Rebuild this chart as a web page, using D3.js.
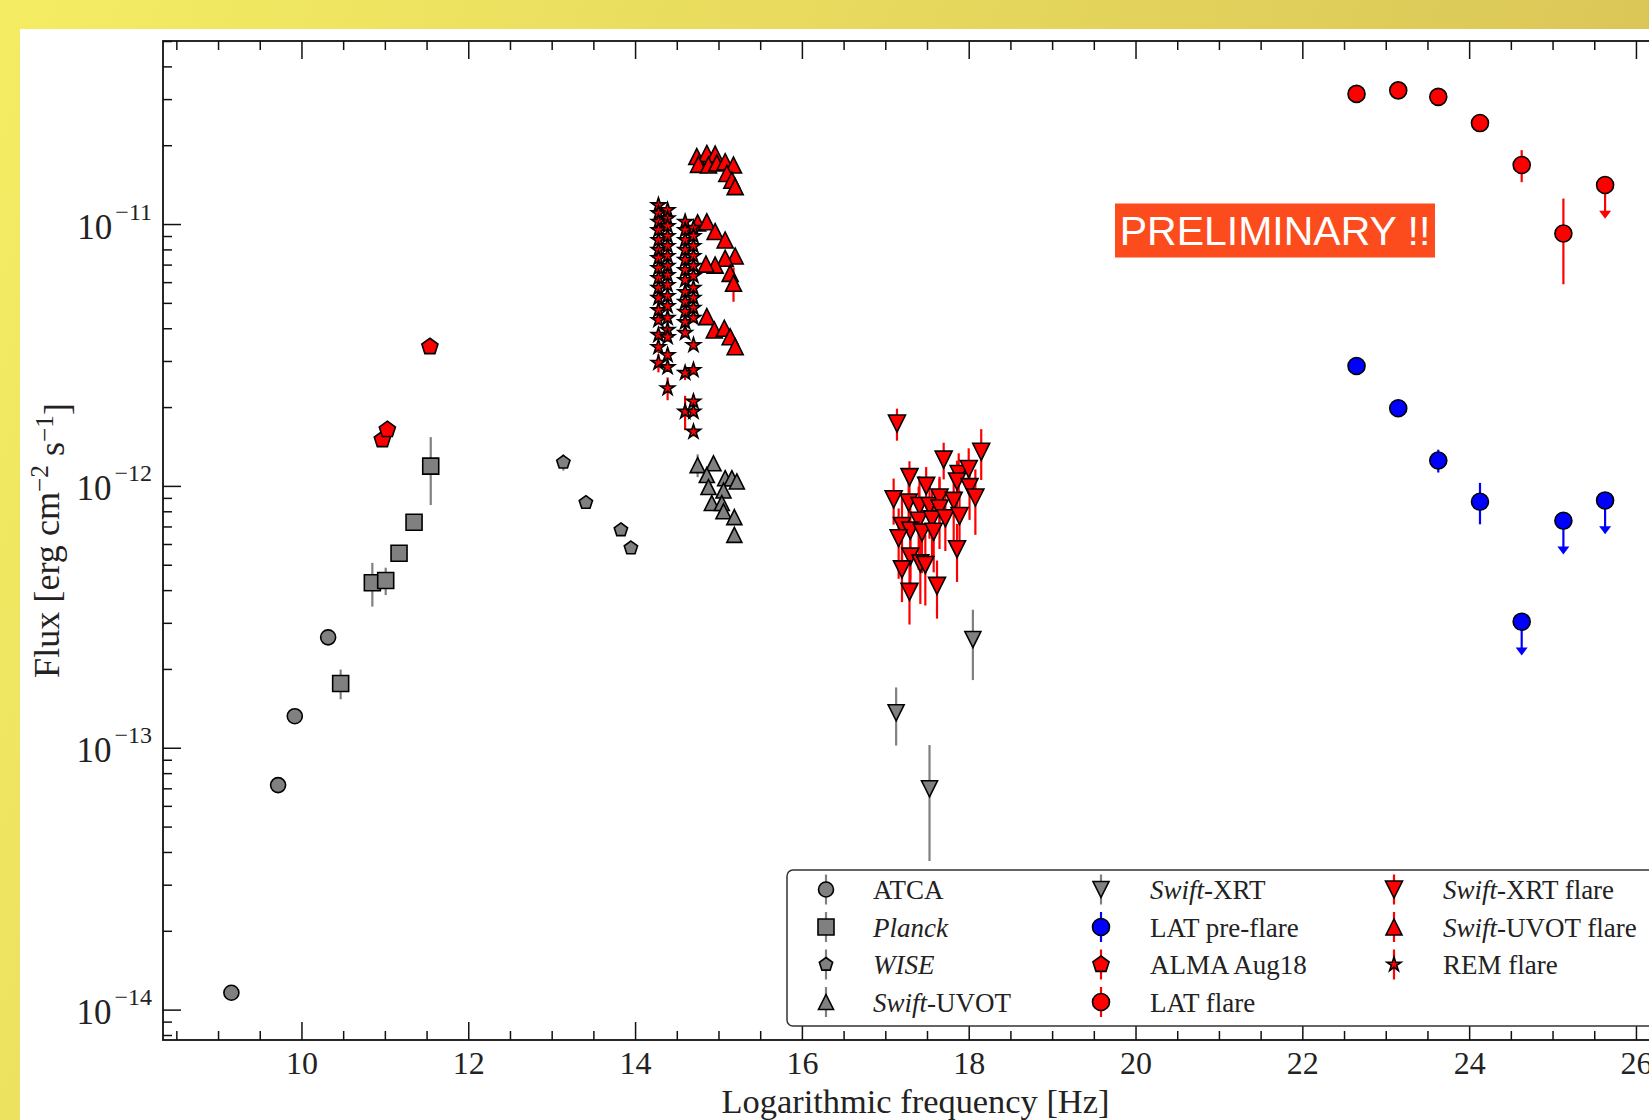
<!DOCTYPE html>
<html>
<head>
<meta charset="utf-8">
<script src="https://cdn.jsdelivr.net/npm/d3@7/dist/d3.min.js"></script>
<style>
html,body{margin:0;padding:0;background:#fff;overflow:hidden;}
svg{display:block;}
</style>
</head>
<body>
<svg id="chart" width="1649" height="1120"></svg>
<script>
// ---------------- data ----------------
const xTickLabels = [10, 12, 14, 16, 18, 20, 22, 24, 26];
const yTickExponents = [-14, -13, -12, -11];

// rows: [log10 frequency (Hz), flux (erg cm^-2 s^-1), relative error]
const atca = [[9.16,1.16e-14,0.02],[9.72,7.2e-14,0.02],[9.92,1.32e-13,0.02],[10.32,2.64e-13,0.02]];
const planck = [[10.47,1.76e-13,0.13],[10.85,4.27e-13,0.19],[11.01,4.35e-13,0.12],[11.17,5.53e-13,0.04],[11.35,7.26e-13,0.06],[11.55,1.19e-12,0.29]];
const wise = [[13.14,1.23e-12,0.07],[13.41,8.63e-13,0.02],[13.83,6.79e-13,0.02],[13.95,5.79e-13,0.02]];
const uvot = [[14.75,1.20e-12,0.1],[14.94,1.22e-12,0.03],[14.86,1.10e-12,0.03],[14.88,9.9e-13,0.03],[15.08,1.07e-12,0.03],[15.16,1.07e-12,0.03],[15.22,1.04e-12,0.03],[15.06,9.6e-13,0.03],[14.92,8.6e-13,0.03],[15.04,8.6e-13,0.03],[15.06,8.0e-13,0.03],[15.19,7.6e-13,0.03],[15.19,6.5e-13,0.03]];
const xrt = [[17.13,1.36e-13,0.25],[17.53,6.97e-14,0.47],[18.05,2.59e-13,0.3]];
const latPre = [[22.65,2.87e-12,0.065],[23.15,1.98e-12,0.04],[23.63,1.25e-12,0.1],[24.13,8.7e-13,0.18]];
const latPreUL = [[24.63,3.03e-13],[25.13,7.36e-13],[25.63,8.8e-13]];
const alma = [[10.97,1.50e-12,0.02],[11.03,1.64e-12,0.02],[11.54,3.40e-12,0.02]];
const latFlare = [[22.65,3.14e-11,0.03],[23.15,3.24e-11,0.03],[23.63,3.06e-11,0.03],[24.13,2.43e-11,0.04],[24.63,1.68e-11,0.14],[25.13,9.2e-12,0.36]];
const latFlareUL = [[25.63,1.41e-11]];
const xrtFlare = [
 [17.14,1.73e-12,0.14],[17.70,1.26e-12,0.16],[18.15,1.35e-12,0.22],[17.29,1.08e-12,0.15],[17.49,1.00e-12,0.18],
 [17.88,1.11e-12,0.2],[18.00,1.16e-12,0.2],[17.86,1.04e-12,0.2],[18.01,9.89e-13,0.25],[17.10,8.89e-13,0.2],
 [17.28,8.63e-13,0.25],[17.41,8.38e-13,0.3],[17.53,8.38e-13,0.25],[17.65,9.03e-13,0.2],[17.82,8.77e-13,0.3],
 [18.08,9.03e-13,0.28],[17.65,8.20e-13,0.3],[17.40,7.36e-13,0.35],[17.56,7.45e-13,0.3],[17.72,7.52e-13,0.25],
 [17.89,7.67e-13,0.25],[17.20,7.03e-13,0.3],[17.30,6.75e-13,0.35],[17.44,6.63e-13,0.3],[17.58,6.68e-13,0.3],
 [17.16,6.31e-13,0.3],[17.86,5.73e-13,0.25],[17.30,5.37e-13,0.3],[17.42,5.06e-13,0.3],[17.48,4.99e-13,0.3],
 [17.20,4.80e-13,0.25],[17.29,3.94e-13,0.25],[17.62,4.15e-13,0.25]
];
const uvotFlare = [
 [14.74,1.81e-11,0.02],[14.86,1.86e-11,0.02],[14.96,1.85e-11,0.02],[14.76,1.69e-11,0.02],[14.88,1.68e-11,0.02],
 [14.98,1.71e-11,0.02],[15.08,1.73e-11,0.02],[15.18,1.68e-11,0.02],[15.10,1.56e-11,0.02],[15.16,1.47e-11,0.02],
 [15.20,1.39e-11,0.02],
 [14.75,1.01e-11,0.02],[14.86,1.02e-11,0.02],[14.96,9.36e-12,0.02],[15.08,8.69e-12,0.02],[15.20,7.55e-12,0.03],
 [15.08,7.40e-12,0.02],[14.96,6.97e-12,0.02],[14.85,7.03e-12,0.02],[15.14,6.48e-12,0.03],[15.18,5.94e-12,0.15],
 [14.86,4.43e-12,0.02],[14.95,3.94e-12,0.02],[15.07,4.00e-12,0.02],[15.14,3.71e-12,0.02],[15.20,3.40e-12,0.02]
];
const remFlare = [
 [14.28,1.18e-11,0.06],[14.28,1.10e-11,0.04],[14.28,1.02e-11,0.04],[14.28,9.48e-12,0.04],[14.28,8.69e-12,0.04],
 [14.28,7.96e-12,0.04],[14.28,7.41e-12,0.04],[14.28,6.79e-12,0.04],[14.28,6.22e-12,0.04],[14.28,5.70e-12,0.04],
 [14.28,5.22e-12,0.08],[14.28,4.69e-12,0.04],[14.28,4.30e-12,0.04],[14.28,3.77e-12,0.04],[14.28,3.39e-12,0.05],
 [14.28,2.95e-12,0.08],
 [14.39,1.13e-11,0.04],[14.39,1.05e-11,0.04],[14.39,9.82e-12,0.04],[14.39,8.99e-12,0.04],[14.39,8.24e-12,0.04],
 [14.39,7.55e-12,0.04],[14.39,6.92e-12,0.04],[14.39,6.38e-12,0.04],[14.39,5.85e-12,0.04],[14.39,5.31e-12,0.04],
 [14.39,4.86e-12,0.1],[14.39,4.38e-12,0.04],[14.39,3.94e-12,0.06],[14.39,3.70e-12,0.04],[14.39,3.16e-12,0.04],
 [14.39,2.84e-12,0.04],[14.39,2.36e-12,0.1],
 [14.60,1.02e-11,0.04],[14.60,9.48e-12,0.04],[14.60,8.69e-12,0.04],[14.60,7.96e-12,0.04],[14.60,7.29e-12,0.04],
 [14.60,6.67e-12,0.04],[14.60,6.11e-12,0.04],[14.60,5.50e-12,0.04],[14.60,5.04e-12,0.04],[14.60,4.62e-12,0.04],
 [14.60,4.22e-12,0.04],[14.60,3.84e-12,0.04],[14.60,2.70e-12,0.06],[14.60,1.92e-12,0.15],
 [14.70,9.66e-12,0.04],[14.70,8.99e-12,0.04],[14.70,8.24e-12,0.04],[14.70,7.55e-12,0.04],[14.70,6.92e-12,0.04],
 [14.70,6.33e-12,0.04],[14.70,5.70e-12,0.04],[14.70,5.22e-12,0.04],[14.70,4.78e-12,0.04],[14.70,4.38e-12,0.04],
 [14.70,3.45e-12,0.04],[14.70,2.77e-12,0.04],[14.70,2.10e-12,0.06],[14.70,1.92e-12,0.04],[14.70,1.61e-12,0.04]
];

// ---------------- setup ----------------
const W = 1649, H = 1120;
const SERIF = "'Liberation Serif','Times New Roman',serif";
const SANS = "'Liberation Sans',Arial,sans-serif";
const GRAY = '#808080', RED = '#ff0000', BLUE = '#0000ff', INK = '#111';

const svg = d3.select('#chart');
const defs = svg.append('defs');
const grad = defs.append('linearGradient').attr('id','bg').attr('gradientUnits','userSpaceOnUse')
  .attr('x1',0).attr('y1',0).attr('x2',W).attr('y2',700);
grad.append('stop').attr('offset',0).attr('stop-color','#f4ed63');
grad.append('stop').attr('offset',1).attr('stop-color','#d6c056');
svg.append('rect').attr('width',W).attr('height',H).attr('fill','url(#bg)');
svg.append('rect').attr('x',20).attr('y',29).attr('width',W-20).attr('height',H-29).attr('fill','#fff');

const plotL = 163, plotT = 41, plotB = 1040, plotR = 1686;
const x = d3.scaleLinear().domain([8.34, 26.6]).range([plotL, plotR]);
const y = d3.scaleLog().domain([Math.pow(10,-14.116), Math.pow(10,-10.301)]).range([plotB, plotT]);

// ---------------- axes ----------------
const xMinor = d3.range(8.5, 26.6, 0.5).filter(v => !xTickLabels.includes(v) && v !== 8);
const yMajor = yTickExponents.map(e => Math.pow(10, e));
const yMinor = [];
[-15,-14,-13,-12,-11].forEach(e => { for (let m = 2; m <= 9; m++) { const v = m*Math.pow(10,e); if (v > y.domain()[0] && v < y.domain()[1]) yMinor.push(v); } });

function styleAxis(g){
  g.select('.domain').remove();
  g.selectAll('line').attr('stroke', INK).attr('stroke-width', 1.5);
}
// bottom
const gB = svg.append('g').attr('transform',`translate(0,${plotB})`)
  .call(d3.axisBottom(x).tickValues(xTickLabels).tickSize(-18).tickPadding(11).tickFormat(d3.format('d')));
styleAxis(gB);
gB.selectAll('text').attr('font-family',SERIF).attr('font-size',32).attr('fill','#222');
svg.append('g').attr('transform',`translate(0,${plotB})`)
  .call(d3.axisBottom(x).tickValues(xMinor).tickSize(-9).tickFormat('')).call(styleAxis);
// top
svg.append('g').attr('transform',`translate(0,${plotT})`)
  .call(d3.axisTop(x).tickValues(xTickLabels).tickSize(-18).tickFormat('')).call(styleAxis);
svg.append('g').attr('transform',`translate(0,${plotT})`)
  .call(d3.axisTop(x).tickValues(xMinor).tickSize(-9).tickFormat('')).call(styleAxis);
// left
const gL = svg.append('g').attr('transform',`translate(${plotL},0)`)
  .call(d3.axisLeft(y).tickValues(yMajor).tickSize(-18).tickFormat(''));
styleAxis(gL);
gL.selectAll('.tick').each(function(d){
  const t = d3.select(this).append('text').attr('x',-11).attr('y',14)
    .attr('text-anchor','end').attr('font-family',SERIF).attr('fill','#222').attr('font-size',35);
  t.append('tspan').text('10');
  t.append('tspan').attr('dx',3).attr('dy',-19).attr('font-size',24).text('\u2212' + Math.abs(Math.round(Math.log10(d))));
});
svg.append('g').attr('transform',`translate(${plotL},0)`)
  .call(d3.axisLeft(y).tickValues(yMinor).tickSize(-9).tickFormat('')).call(styleAxis);
// right (outside the visible window)
svg.append('g').attr('transform',`translate(${plotR},0)`)
  .call(d3.axisRight(y).tickValues(yMajor).tickSize(-18).tickFormat('')).call(styleAxis);

// frame
svg.append('rect').attr('x',plotL).attr('y',plotT).attr('width',plotR-plotL).attr('height',plotB-plotT)
  .attr('fill','none').attr('stroke',INK).attr('stroke-width',1.8);

// axis labels
function fitWidth(sel, target){
  const len = sel.node().getComputedTextLength();
  const fs = parseFloat(sel.attr('font-size'));
  sel.attr('font-size', fs*target/len);
}
const xl = svg.append('text').attr('x',915.5).attr('y',1113).attr('text-anchor','middle')
  .attr('font-family',SERIF).attr('font-size',33).attr('fill','#222').text('Logarithmic frequency [Hz]');
fitWidth(xl, 388);

const yl = svg.append('text').attr('transform','translate(59,540.5) rotate(-90)').attr('text-anchor','middle')
  .attr('font-family',SERIF).attr('font-size',33).attr('fill','#222');
yl.append('tspan').text('Flux [erg cm');
yl.append('tspan').attr('dy','-0.45em').style('font-size','0.7em').text('\u22122');
yl.append('tspan').attr('dy','0.45em').text(' s');
yl.append('tspan').attr('dy','-0.45em').style('font-size','0.7em').text('\u22121');
yl.append('tspan').attr('dy','0.45em').text(']');
fitWidth(yl, 275);

// ---------------- marker shapes ----------------
function circleP(r){ return `M${r},0A${r},${r} 0 1,1 ${-r},0A${r},${r} 0 1,1 ${r},0Z`; }
function squareP(s){ const h=s/2; return `M${-h},${-h}H${h}V${h}H${-h}Z`; }
function pentP(r){ let p=''; for(let i=0;i<5;i++){ const a=-Math.PI/2+i*2*Math.PI/5; p+=(i?'L':'M')+(r*Math.cos(a)).toFixed(2)+','+(r*Math.sin(a)).toFixed(2);} return p+'Z'; }
function starP(R){ const r=R*0.381966; let p=''; for(let i=0;i<10;i++){ const rr=i%2?r:R; const a=-Math.PI/2+i*Math.PI/5; p+=(i?'L':'M')+(rr*Math.cos(a)).toFixed(2)+','+(rr*Math.sin(a)).toFixed(2);} return p+'Z'; }
function triUpP(h){ return `M0,${-h}L${h},${h}L${-h},${h}Z`; }
function triDnP(h){ return `M0,${h}L${h},${-h}L${-h},${-h}Z`; }

const series = [
  {data: atca, shape: circleP(7.5), fill: GRAY, ec: GRAY, label: [['ATCA',false]]},
  {data: planck, shape: squareP(16), fill: GRAY, ec: GRAY, label: [['Planck',true]]},
  {data: wise, shape: pentP(7), fill: GRAY, ec: GRAY, label: [['WISE',true]]},
  {data: uvot, shape: triUpP(7.5), fill: GRAY, ec: GRAY, label: [['Swift',true],['-UVOT',false]]},
  {data: xrt, shape: triDnP(8), fill: GRAY, ec: GRAY, label: [['Swift',true],['-XRT',false]]},
  {data: latPre, ul: latPreUL, shape: circleP(8.5), fill: BLUE, ec: BLUE, label: [['LAT pre-flare',false]]},
  {data: alma, shape: pentP(8.5), fill: RED, ec: RED, label: [['ALMA Aug18',false]]},
  {data: latFlare, ul: latFlareUL, shape: circleP(8.5), fill: RED, ec: RED, label: [['LAT flare',false]]},
  {data: xrtFlare, shape: triDnP(8.5), fill: RED, ec: RED, label: [['Swift',true],['-XRT flare',false]]},
  {data: uvotFlare, shape: triUpP(8), fill: RED, ec: RED, label: [['Swift',true],['-UVOT flare',false]]},
  {data: remFlare, shape: starP(7.5), fill: RED, ec: RED, label: [['REM flare',false]]}
];

const ULFRAC = 0.25;
series.forEach(s => {
  const g = svg.append('g');
  g.selectAll('line.err').data(s.data).join('line').attr('class','err')
    .attr('x1',d=>x(d[0])).attr('x2',d=>x(d[0]))
    .attr('y1',d=>y(d[1]*(1+d[2]))).attr('y2',d=>y(d[1]*(1-d[2])))
    .attr('stroke',s.ec).attr('stroke-width',2.2);
  const all = s.data.slice();
  if (s.ul) {
    g.selectAll('line.ul').data(s.ul).join('line').attr('class','ul')
      .attr('x1',d=>x(d[0])).attr('x2',d=>x(d[0]))
      .attr('y1',d=>y(d[1])).attr('y2',d=>y(d[1]*(1-ULFRAC))-2)
      .attr('stroke',s.ec).attr('stroke-width',2.2);
    g.selectAll('path.head').data(s.ul).join('path').attr('class','head')
      .attr('d',d=>{ const xe=x(d[0]), ye=y(d[1]*(1-ULFRAC)); return `M${xe-6},${ye-7}L${xe+6},${ye-7}L${xe},${ye+1}Z`; })
      .attr('fill',s.ec);
    s.ul.forEach(d => all.push(d));
  }
  g.selectAll('path.mk').data(all).join('path').attr('class','mk')
    .attr('transform',d=>`translate(${x(d[0])},${y(d[1])})`)
    .attr('d',s.shape).attr('fill',s.fill).attr('stroke','#000').attr('stroke-width',1.6);
});

// ---------------- legend ----------------
const legX = 787, legY = 870, legH = 156;
const lg = svg.append('g');
lg.append('rect').attr('x',legX).attr('y',legY).attr('width',1000).attr('height',legH)
  .attr('rx',6).attr('ry',6).attr('fill','#fff').attr('stroke','#333').attr('stroke-width',1.5);
const colMk = [826, 1101, 1394];
const colTx = [873, 1150, 1443];
const rowY = [889.5, 927, 964.5, 1002];
series.forEach((s,i) => {
  const c = Math.floor(i/4), r = i%4;
  const mx = colMk[c], my = rowY[r];
  lg.append('line').attr('x1',mx).attr('x2',mx).attr('y1',my-15).attr('y2',my+15)
    .attr('stroke',s.ec).attr('stroke-width',2.2);
  lg.append('path').attr('transform',`translate(${mx},${my})`).attr('d',s.shape)
    .attr('fill',s.fill).attr('stroke','#000').attr('stroke-width',1.6);
  const t = lg.append('text').attr('x',colTx[c]).attr('y',my+9.5).attr('font-family',SERIF)
    .attr('font-size',27).attr('fill','#222');
  s.label.forEach(([txt,it]) => t.append('tspan').attr('font-style', it?'italic':'normal').text(txt));
});

// ---------------- preliminary stamp ----------------
svg.append('rect').attr('x',1115).attr('y',203.5).attr('width',320).attr('height',54).attr('fill','#fc4b1d');
svg.append('text').attr('x',1275).attr('y',245).attr('text-anchor','middle').attr('font-family',SANS)
  .attr('font-size',41).attr('fill','#fff').text('PRELIMINARY !!');
</script>
</body>
</html>
